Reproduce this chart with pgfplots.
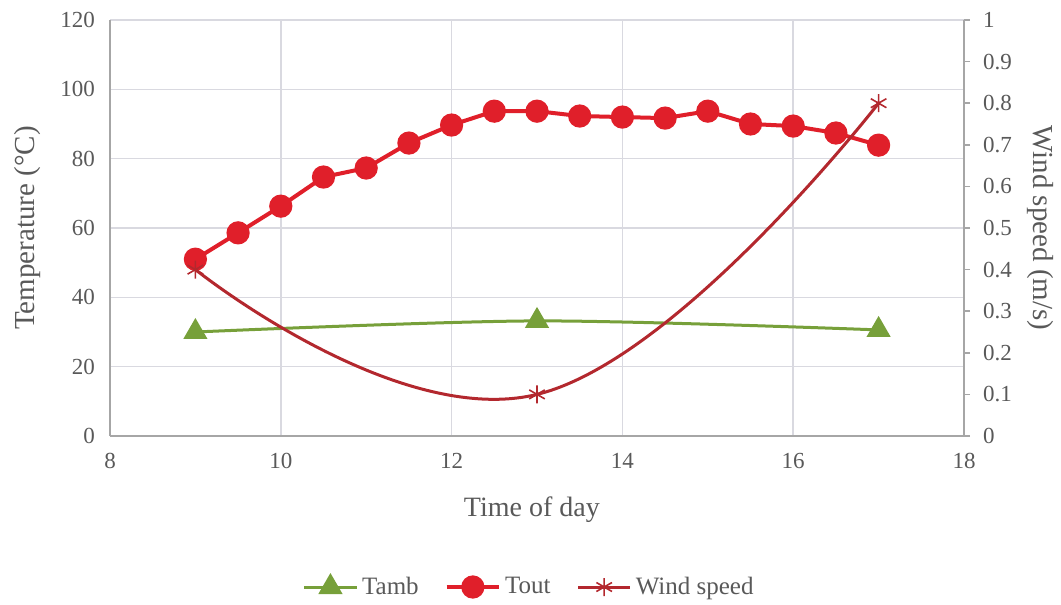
\documentclass[border=0pt]{standalone}
\usepackage{pgfplots}
\pgfplotsset{compat=1.18}
\usepackage{fontspec}
\setmainfont{Liberation Serif}

\definecolor{txt}{HTML}{595959}
\definecolor{gridc}{HTML}{D9D9E0}
\definecolor{axc}{HTML}{A6A6A6}
\definecolor{tamb}{HTML}{77A03A}
\definecolor{tout}{HTML}{E01F2A}
\definecolor{wind}{HTML}{B3282E}

\pgfplotsset{
  common/.style={
    at={(55pt,84.5pt)}, anchor=south west,
    scale only axis, width=427pt, height=208pt,
    xmin=8, xmax=18,
    /pgf/number format/assume math mode=true,
    tick label style={font=\fontsize{11.5}{13}\selectfont, text=txt},
    axis line style={axc, line width=0.8pt, -},
    tick style={axc, line width=0.8pt},
  },
  legimg/.style={legend image code/.code={%
    \draw[mark repeat=2, mark phase=2]
      plot coordinates {(0cm,0cm) (0.46cm,0cm) (0.92cm,0cm)};}},
}

\begin{document}
\begin{tikzpicture}
\path[use as bounding box] (0,0) rectangle (530.5pt,302.5pt);

% temperatures (left axis)
\begin{axis}[
  common,
  ymin=0, ymax=120,
  xtick={8,10,12,14,16,18}, ytick={0,20,40,60,80,100,120},
  axis x line*=bottom, axis y line*=left,
  xtick style={draw=none},
  ytick style={draw=none},
  xticklabel style={yshift=-5pt},
  yticklabel style={xshift=-4pt},
  grid=major, major grid style={gridc, line width=0.8pt},
  xlabel={Time of day},
  ylabel={Temperature (\textdegree C)},
  every axis x label/.style={at={(axis description cs:0.494,-0.178)}, anchor=center,
    font=\fontsize{14}{16}\selectfont, text=txt},
  every axis y label/.style={at={(axis description cs:-0.096,0.5)}, anchor=center, rotate=90,
    font=\fontsize{14.5}{16}\selectfont, text=txt},
  legend columns=3,
  legend style={at={(axis description cs:0.492,-0.363)}, anchor=center, draw=none,
    fill=none, font=\fontsize{12.5}{14}\selectfont, text=txt,
    /tikz/every even column/.append style={column sep=11pt}},
  legimg,
]
\addplot[tamb, line width=1.5pt, smooth, mark=triangle*, mark size=5.5pt,
  mark options={solid}]
  coordinates {(9,30) (13,33.2) (17,30.6)};
\addlegendentry{Tamb}
\addplot[tout, line width=2pt, mark=*, mark size=4.8pt, mark options={solid}]
  coordinates {
    (9,51) (9.5,58.6) (10,66.3) (10.5,74.7) (11,77.3) (11.5,84.5)
    (12,89.7) (12.5,93.7) (13,93.7) (13.5,92.3) (14,92) (14.5,91.7)
    (15,93.7) (15.5,90) (16,89.4) (16.5,87.4) (17,83.9)};
\addlegendentry{Tout}
\addlegendimage{wind, line width=1.5pt, mark=asterisk, mark size=4.5pt,
  mark options={line width=0.8pt, solid}}
\addlegendentry{Wind speed}
\end{axis}

% wind speed (right axis)
\begin{axis}[
  common,
  ymin=0, ymax=1,
  axis x line=none, axis y line*=right,
  ytick={0,0.1,0.2,0.3,0.4,0.5,0.6,0.7,0.8,0.9,1},
  yticklabels={0,0.1,0.2,0.3,0.4,0.5,0.6,0.7,0.8,0.9,1},
  tick align=outside, major tick length=3pt,
  yticklabel style={xshift=3pt},
  ylabel={Wind speed (m/s)},
  every axis y label/.style={at={(axis description cs:1.089,0.5)}, anchor=center, rotate=-90,
    font=\fontsize{14.5}{16}\selectfont, text=txt},
]
\addplot[wind, line width=1.5pt, smooth, tension=0.75, mark=asterisk, mark size=4.5pt,
  mark options={line width=0.8pt, solid}]
  coordinates {(9,0.4) (13,0.1) (17,0.8)};
\end{axis}
\end{tikzpicture}
\end{document}
